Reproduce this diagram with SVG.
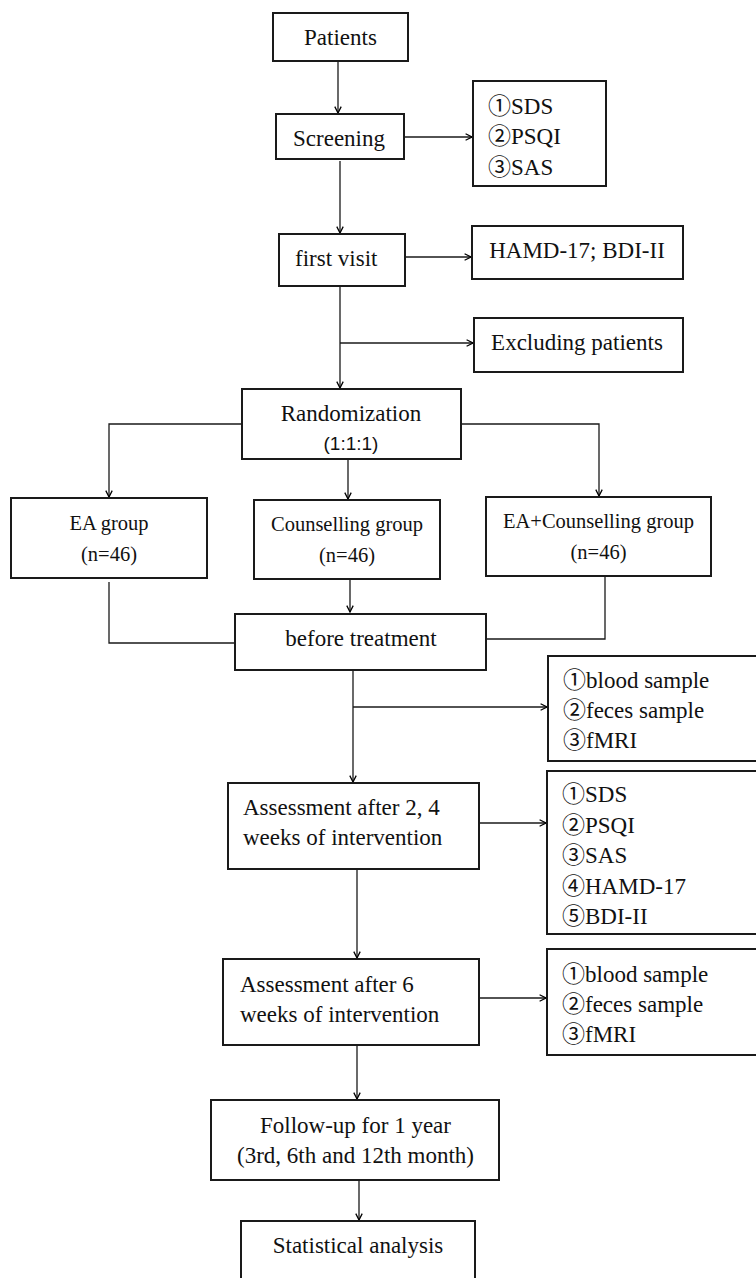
<svg xmlns="http://www.w3.org/2000/svg" width="756" height="1278" viewBox="0 0 756 1278">
<defs>
<marker id="arr" viewBox="0 0 10 10" refX="9" refY="5" markerWidth="8" markerHeight="8" markerUnits="userSpaceOnUse" orient="auto">
<path d="M1,1 L9,5 L1,9" fill="none" stroke="#000" stroke-width="1.6"/>
</marker>
<style>
.box{fill:#fff;stroke:#1a1a1a;stroke-width:2}
.t{font-family:"Liberation Serif","Noto Sans CJK SC",serif;font-size:23px;fill:#111}
.s{font-size:20.5px}
.c{text-anchor:middle}
.sans{font-family:"Liberation Sans",Arial,sans-serif;font-size:19px;fill:#111}
.ln{fill:none;stroke:#1a1a1a;stroke-width:1.3}
.ar{marker-end:url(#arr)}
</style>
</defs>
<rect width="756" height="1278" fill="#fff"/>
<g id="connectors">
<path class="ln ar" d="M338,61 V113"/>
<path class="ln ar" d="M404,137 H472"/>
<path class="ln ar" d="M340,161 V233"/>
<path class="ln ar" d="M405,257 H471"/>
<path class="ln ar" d="M340,286 V388"/>
<path class="ln ar" d="M340,343 H473"/>
<path class="ln ar" d="M242,424 H109 V497"/>
<path class="ln ar" d="M461,424 H599 V496"/>
<path class="ln ar" d="M348,459 V499"/>
<path class="ln" d="M109,582 V643 H235"/>
<path class="ln ar" d="M350,579 V612"/>
<path class="ln" d="M605,577 V639 H486"/>
<path class="ln ar" d="M353,670 V782"/>
<path class="ln ar" d="M353,707 H547"/>
<path class="ln ar" d="M479,823 H546"/>
<path class="ln ar" d="M357,869 V958"/>
<path class="ln ar" d="M479,998 H546"/>
<path class="ln ar" d="M357,1045 V1099"/>
<path class="ln ar" d="M359,1180 V1220"/>
</g>
<g id="patients">
<rect class="box" x="273" y="13" width="135" height="48"/>
<text class="t c" x="340.5" y="45">Patients</text>
</g>
<g id="screening">
<rect class="box" x="276" y="114" width="128" height="45"/>
<text class="t c" x="339" y="146">Screening</text>
</g>
<g id="list1">
<rect class="box" x="473" y="81" width="133" height="105"/>
<text class="t" x="488" y="114">①SDS</text>
<text class="t" x="488" y="144">②PSQI</text>
<text class="t" x="488" y="175">③SAS</text>
</g>
<g id="first-visit">
<rect class="box" x="279" y="234" width="126" height="52"/>
<text class="t" x="295" y="266">first visit</text>
</g>
<g id="hamd">
<rect class="box" x="472" y="226" width="211" height="53"/>
<text class="t c" x="577" y="258">HAMD-17; BDI-II</text>
</g>
<g id="excluding">
<rect class="box" x="474" y="318" width="209" height="54"/>
<text class="t c" x="577" y="350">Excluding patients</text>
</g>
<g id="randomization">
<rect class="box" x="242" y="389" width="219" height="70"/>
<text class="t c" x="351" y="421">Randomization</text>
<text class="sans c" x="351" y="450">(1:1:1)</text>
</g>
<g id="ea-group">
<rect class="box" x="11" y="498" width="196" height="80"/>
<text class="t s c" x="109" y="530">EA group</text>
<text class="t s c" x="109" y="561">(n=46)</text>
</g>
<g id="counselling-group">
<rect class="box" x="254" y="500" width="186" height="79"/>
<text class="t s c" x="347" y="531">Counselling group</text>
<text class="t s c" x="347" y="562">(n=46)</text>
</g>
<g id="ea-counselling-group">
<rect class="box" x="486" y="497" width="225" height="79"/>
<text class="t s c" x="598.5" y="528">EA+Counselling group</text>
<text class="t s c" x="598.5" y="559">(n=46)</text>
</g>
<g id="before-treatment">
<rect class="box" x="235" y="614" width="251" height="56"/>
<text class="t c" x="361" y="646">before treatment</text>
</g>
<g id="samples1">
<rect class="box" x="548" y="656" width="212" height="105"/>
<text class="t" x="563" y="688">①blood sample</text>
<text class="t" x="563" y="718">②feces sample</text>
<text class="t" x="563" y="748">③fMRI</text>
</g>
<g id="assessment-2-4">
<rect class="box" x="228" y="783" width="251" height="86"/>
<text class="t" x="243" y="815">Assessment after 2, 4</text>
<text class="t" x="243" y="845">weeks of intervention</text>
</g>
<g id="scales2">
<rect class="box" x="547" y="771" width="213" height="163"/>
<text class="t" x="562" y="802">①SDS</text>
<text class="t" x="562" y="833">②PSQI</text>
<text class="t" x="562" y="863">③SAS</text>
<text class="t" x="562" y="894">④HAMD-17</text>
<text class="t" x="562" y="924">⑤BDI-II</text>
</g>
<g id="assessment-6">
<rect class="box" x="223" y="959" width="256" height="86"/>
<text class="t" x="240" y="992">Assessment after 6</text>
<text class="t" x="240" y="1022">weeks of intervention</text>
</g>
<g id="samples3">
<rect class="box" x="547" y="949" width="213" height="106"/>
<text class="t" x="562" y="982">①blood sample</text>
<text class="t" x="562" y="1012">②feces sample</text>
<text class="t" x="562" y="1042">③fMRI</text>
</g>
<g id="follow-up">
<rect class="box" x="211" y="1100" width="288" height="80"/>
<text class="t c" x="355.5" y="1133">Follow-up for 1 year</text>
<text class="t c" x="355.5" y="1163">(3rd, 6th and 12th month)</text>
</g>
<g id="statistical-analysis">
<rect class="box" x="241" y="1221" width="234" height="70"/>
<text class="t c" x="358" y="1253">Statistical analysis</text>
</g>
</svg>
